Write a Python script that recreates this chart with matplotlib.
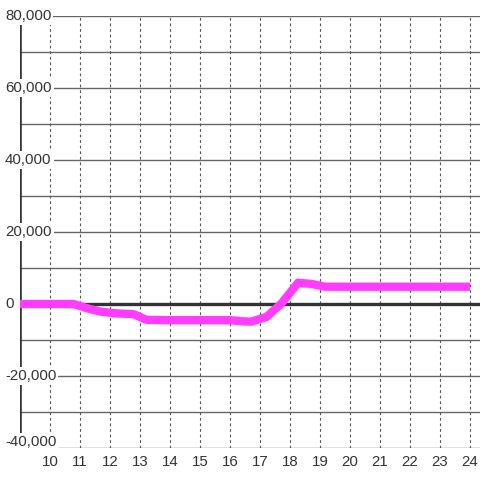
import matplotlib
matplotlib.use('Agg')
import matplotlib.pyplot as plt

plt.rcParams['font.family'] = ['Liberation Sans', 'DejaVu Sans']

# hours and values of the series
hours = [9.0, 10.0, 10.78, 11.25, 11.67, 12.2, 12.78, 13.22, 14.0, 15.0, 16.0, 16.4, 16.7,
         17.22, 17.72, 18.27, 18.7, 19.17, 20.0, 21.0, 22.0, 23.0, 23.86]
values = [0, 0, 0, -1200, -2100, -2600, -2800, -4400, -4500, -4500, -4500, -4800, -4900,
          -3600, 200, 5900, 5600, 4800, 4800, 4800, 4800, 4800, 4800]

y_ticks = [-40000, -20000, 0, 20000, 40000, 60000, 80000]
y_grid = list(range(-40000, 80001, 10000))
x_ticks = list(range(10, 25))

fig = plt.figure(figsize=(4.8, 4.8), dpi=100)
ax = fig.add_axes([20 / 480, 32 / 480, 460 / 480, 432 / 480])
ax.set_xlim(9, 9 + 460 / 30)
ax.set_ylim(-40000, 80000)
for s in ax.spines.values():
    s.set_visible(False)
ax.set_xticks([])
ax.set_yticks([])
px = 120000 / 432  # data units per pixel

# grid
for v in y_grid:
    if v == 0:
        continue
    ax.axhline(v, color='#666666', lw=1.0, zorder=1)
for h in x_ticks:
    ax.axvline(h, color='#555555', lw=0.8, ls=(0, (2.5, 2.5)), zorder=1)

# axis lines
ax.axvline(9, color='#333333', lw=2.6, zorder=2)
ax.axhline(0, color='#333333', lw=2.4, zorder=2)

# series
ax.plot(hours, values, color='#ff3cff', lw=6, zorder=4, solid_joinstyle='round')

# y labels with white background, left aligned near the figure edge
lab_x = 9 - 15 / 30
for v in y_ticks:
    yy = v + 6 * px if v == y_ticks[0] else v
    ax.text(lab_x, yy, f'{v:,}', ha='left', va='center', fontsize=10.8, color='#333333',
            zorder=5, clip_on=False,
            bbox=dict(facecolor='white', edgecolor='none', pad=1.5))

# x labels
for h in x_ticks:
    ax.text(h, -40000 - 14 * px, str(h), ha='center', va='center', fontsize=10.8,
            color='#333333', clip_on=False)

fig.savefig('out.png', dpi=100, facecolor='white')
